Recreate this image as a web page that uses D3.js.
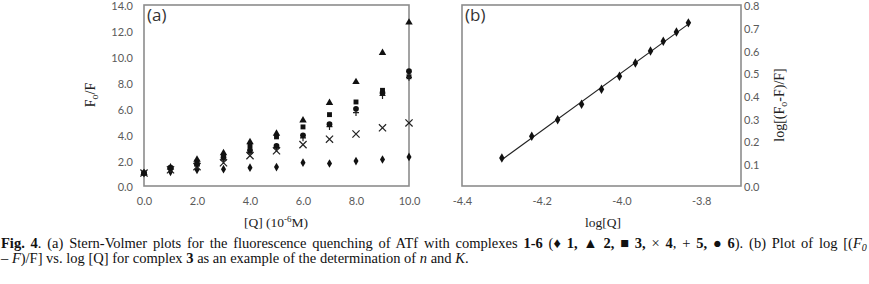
<!DOCTYPE html>
<html>
<head>
<meta charset="utf-8">
<script src="https://cdn.jsdelivr.net/npm/d3@7"></script>
<style>
  body { margin: 0; background: #fff; }
  svg { display: block; }
</style>
</head>
<body>
<div id="chart"></div>
<script>
// ---- data ----
const concQ = [0, 1, 2, 3, 4, 5, 6, 7, 8, 9, 10];            // [Q] (10^-6 M)
const series1 = [1.0, 1.1, 1.25, 1.3, 1.42, 1.46, 1.8, 1.74, 1.93, 2.05, 2.25];   // diamond
const series2 = [1.0, 1.45, 2.05, 2.55, 3.4, 4.05, 5.08, 6.44, 8.05, 10.3, 12.65]; // triangle
const series3 = [1.0, 1.4, 1.85, 2.35, 3.1, 3.8, 4.57, 5.52, 6.5, 7.4, 8.45];      // square
const series4 = [1.0, 1.25, 1.5, 1.8, 2.35, 2.72, 3.2, 3.62, 4.02, 4.5, 4.88];     // x
const series5 = [1.0, 1.3, 1.55, 2.0, 2.55, 2.95, 3.72, 4.6, 5.67, 7.0, 8.4];      // plus
const series6 = [1.0, 1.4, 1.7, 2.2, 2.75, 3.1, 3.92, 4.78, 5.97, 7.2, 8.88];      // circle

const logQ = [-4.30, -4.225, -4.16, -4.10, -4.05, -4.005, -3.965, -3.927, -3.895, -3.862, -3.832];
const logRatio = [0.124, 0.220, 0.293, 0.361, 0.428, 0.485, 0.544, 0.597, 0.640, 0.681, 0.721];

const ticksA_x = [0, 2, 4, 6, 8, 10];
const ticksA_y = [0, 2, 4, 6, 8, 10, 12, 14];
const ticksB_x = [-4.4, -4.2, -4.0, -3.8];
const ticksB_y = [0, 0.1, 0.2, 0.3, 0.4, 0.5, 0.6, 0.7, 0.8];

const W = 869, H = 284;
const tickFont = "Lato, 'Open Sans', sans-serif";
const serif = "'Liberation Serif', 'Times New Roman', serif";
const boxColor = "#8c8c8c";
const tickColor = "#5a5a5a";

const svg = d3.select("#chart").append("svg")
    .attr("width", W)
    .attr("height", H)
    .attr("viewBox", [0, 0, W, H]);

// -------------------- panel (a) --------------------
const xa = d3.scaleLinear().domain([0, 10]).range([144, 409]);
const ya = d3.scaleLinear().domain([0, 14]).range([186, 5]);

svg.append("rect")
    .attr("x", xa(0)).attr("y", ya(14))
    .attr("width", xa(10) - xa(0)).attr("height", ya(0) - ya(14))
    .attr("fill", "none").attr("stroke", boxColor).attr("stroke-width", 1.6);

const axA_x = svg.append("g")
    .attr("transform", `translate(0,${ya(0)})`)
    .call(d3.axisBottom(xa).tickValues(ticksA_x).tickSize(0).tickPadding(11).tickFormat(d3.format(".1f")));
const axA_y = svg.append("g")
    .attr("transform", `translate(${xa(0)},0)`)
    .call(d3.axisLeft(ya).tickValues(ticksA_y).tickSize(0).tickPadding(11).tickFormat(d3.format(".1f")));

// -------------------- panel (b) --------------------
const xb = d3.scaleLinear().domain([-4.4, -3.7]).range([462, 741]);
const yb = d3.scaleLinear().domain([0, 0.8]).range([186, 5]);

svg.append("rect")
    .attr("x", xb(-4.4)).attr("y", yb(0.8))
    .attr("width", xb(-3.7) - xb(-4.4)).attr("height", yb(0) - yb(0.8))
    .attr("fill", "none").attr("stroke", boxColor).attr("stroke-width", 1.6);

const axB_x = svg.append("g")
    .attr("transform", `translate(0,${yb(0)})`)
    .call(d3.axisBottom(xb).tickValues(ticksB_x).tickSize(0).tickPadding(11)
        .tickFormat(d => d3.format(".1f")(d).replace("−", "-")));
const axB_y = svg.append("g")
    .attr("transform", `translate(${xb(-3.7)},0)`)
    .call(d3.axisRight(yb).tickValues(ticksB_y).tickSize(0).tickPadding(3).tickFormat(d3.format(".1f")));

[axA_x, axA_y, axB_x, axB_y].forEach(g => {
    g.select(".domain").remove();
    g.selectAll("text")
        .attr("font-family", tickFont)
        .attr("font-size", 11)
        .attr("fill", tickColor);
});
[axA_y, axB_y].forEach(g => g.selectAll("text").attr("dy", "0.45em"));

// panel labels
svg.append("text").attr("x", 147).attr("y", 21)
    .attr("font-family", "'Open Sans', sans-serif").attr("font-size", 17).attr("fill", "#333")
    .text("(a)");
svg.append("text").attr("x", 465).attr("y", 21)
    .attr("font-family", "'Open Sans', sans-serif").attr("font-size", 17).attr("fill", "#333")
    .text("(b)");

// -------------------- markers --------------------
const symPath = {
    diamond: d3.symbol(d3.symbolDiamond, 22)(),
    triangle: d3.symbol(d3.symbolTriangle, 24)(),
    square: d3.symbol(d3.symbolSquare, 24)(),
    circle: d3.symbol(d3.symbolCircle, 26)(),
    times: "M-3.6,-3.6L3.6,3.6M-3.6,3.6L3.6,-3.6",
    plus: "M-3,0L3,0M0,-3.4L0,3.4"
};

const seriesA = [
    {name: "1", shape: "diamond", values: series1},
    {name: "2", shape: "triangle", values: series2},
    {name: "3", shape: "square", values: series3},
    {name: "4", shape: "times", values: series4},
    {name: "5", shape: "plus", values: series5},
    {name: "6", shape: "circle", values: series6}
];

seriesA.forEach(s => {
    const stroked = s.shape === "times" || s.shape === "plus";
    svg.append("g").selectAll("path")
        .data(s.values.map((v, i) => ({x: concQ[i], y: v})))
        .join("path")
        .attr("transform", d => `translate(${xa(d.x)},${ya(d.y)})`)
        .attr("d", symPath[s.shape])
        .attr("fill", stroked ? "none" : "#111")
        .attr("stroke", stroked ? "#222" : "none")
        .attr("stroke-width", stroked ? 1.2 : 0);
});

// panel (b): least-squares trendline + points
const bPts = logQ.map((v, i) => ({x: v, y: logRatio[i]}));
const mx = d3.mean(bPts, d => d.x), my = d3.mean(bPts, d => d.y);
const slope = d3.sum(bPts, d => (d.x - mx) * (d.y - my)) / d3.sum(bPts, d => (d.x - mx) ** 2);
const icpt = my - slope * mx;
const xEnds = d3.extent(logQ);
svg.append("line")
    .attr("x1", xb(xEnds[0])).attr("y1", yb(icpt + slope * xEnds[0]))
    .attr("x2", xb(xEnds[1])).attr("y2", yb(icpt + slope * xEnds[1]))
    .attr("stroke", "#222").attr("stroke-width", 1.1);

svg.append("g").selectAll("path")
    .data(bPts)
    .join("path")
    .attr("transform", d => `translate(${xb(d.x)},${yb(d.y)})`)
    .attr("d", d3.symbol(d3.symbolDiamond, 26)())
    .attr("fill", "#111");

// -------------------- axis titles --------------------
const yTitleA = svg.append("text")
    .attr("transform", `translate(95,95) rotate(-90)`)
    .attr("text-anchor", "middle")
    .attr("font-family", serif).attr("font-size", 14).attr("fill", "#222");
yTitleA.append("tspan").text("F");
yTitleA.append("tspan").attr("font-size", 10).attr("dy", 3).text("o");
yTitleA.append("tspan").attr("dy", -3).text("/F");

const xTitleA = svg.append("text")
    .attr("x", 276).attr("y", 227)
    .attr("text-anchor", "middle")
    .attr("font-family", serif).attr("font-size", 13.5).attr("fill", "#222");
xTitleA.append("tspan").text("[Q] (10");
xTitleA.append("tspan").attr("font-size", 9).attr("dy", -5).text("-6");
xTitleA.append("tspan").attr("dy", 5).text("M)");

svg.append("text")
    .attr("x", 603).attr("y", 227)
    .attr("text-anchor", "middle")
    .attr("font-family", serif).attr("font-size", 13.5).attr("fill", "#222")
    .text("log[Q]");

const yTitleB = svg.append("text")
    .attr("transform", `translate(784,105) rotate(-90)`)
    .attr("text-anchor", "middle")
    .attr("font-family", serif).attr("font-size", 14).attr("fill", "#222");
yTitleB.append("tspan").text("log[(F");
yTitleB.append("tspan").attr("font-size", 10).attr("dy", 3).text("o");
yTitleB.append("tspan").attr("dy", -3).text("-F)/F]");

// -------------------- caption --------------------
const cap1 = svg.append("text")
    .attr("x", 1).attr("y", 248)
    .attr("font-family", serif).attr("font-size", 14.5).attr("fill", "#111")
    .attr("word-spacing", 2.2);
const capParts1 = [
    ["Fig. 4", "b"], [". (a) Stern-Volmer plots for the fluorescence quenching of ATf with complexes ", ""],
    ["1-6", "b"], [" (", ""], ["\u2666 1, \u25B2 2, \u25A0 3, ", "b"], ["\u00D7 ", ""], ["4", "b"],
    [", + ", ""], ["5", "b"], [", \u25CF 6", "b"], ["). (b) Plot of log [(", ""], ["F", "i"], ["0", "isub"]
];
capParts1.forEach(([t, st]) => {
    const ts = cap1.append("tspan").text(t);
    if (st === "b") ts.attr("font-weight", "bold");
    if (st === "i") ts.attr("font-style", "italic");
    if (st === "isub") ts.attr("font-style", "italic").attr("font-size", 10).attr("dy", 3);
});

const cap2 = svg.append("text")
    .attr("x", 1).attr("y", 263)
    .attr("font-family", serif).attr("font-size", 14.5).attr("fill", "#111");
const capParts2 = [
    ["\u2013 ", ""], ["F", "i"], [")/F] vs. log [Q] for complex ", ""], ["3", "b"],
    [" as an example of the determination of ", ""], ["n", "i"], [" and ", ""], ["K", "i"], [".", ""]
];
capParts2.forEach(([t, st]) => {
    const ts = cap2.append("tspan").text(t);
    if (st === "b") ts.attr("font-weight", "bold");
    if (st === "i") ts.attr("font-style", "italic");
});
</script>
</body>
</html>
